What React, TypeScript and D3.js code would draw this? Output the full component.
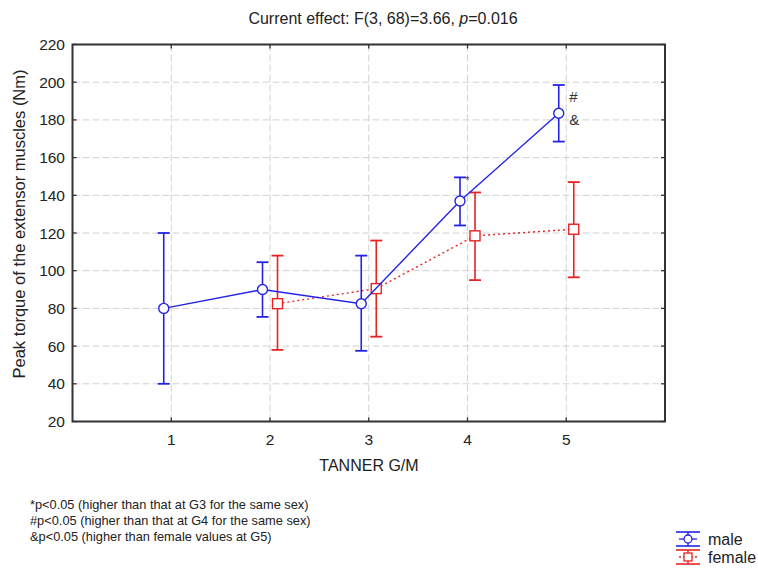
import React, { useEffect, useRef } from "react";
import * as d3 from "d3";

// values
const grades = [1, 2, 3, 4, 5];
const maleMean = [80, 90, 82.5, 137, 183.5];
const maleLow = [40, 75.5, 57.5, 124, 168.5];
const maleHigh = [120, 104.5, 108, 149.5, 198.5];

const femaleGrades = [2, 3, 4, 5];
const femaleMean = [82.5, 90.5, 118.5, 122];
const femaleLow = [58, 65, 95, 96.5];
const femaleHigh = [108, 116, 141.5, 147];

const yTicks = [20, 40, 60, 80, 100, 120, 140, 160, 180, 200, 220];
const footnotes = [
  "*p<0.05 (higher than that at G3 for the same sex)",
  "#p<0.05 (higher than that at G4 for the same sex)",
  "&p<0.05 (higher than female values at G5)",
];

const W = 758;
const H = 568;
const FONT = "Arial, 'Liberation Sans', sans-serif";
const BLUE = "#2323e6";
const RED = "#e62323";

export default function App() {
  const ref = useRef<SVGSVGElement>(null);

  useEffect(() => {
    const svg = d3.select(ref.current);
    svg.selectAll("*").remove();

    const x = d3.scaleLinear().domain([0, 6]).range([72.5, 665]);
    const y = d3.scaleLinear().domain([20, 220]).range([421.5, 44.5]);
    const off = 0.076;

    svg.append("rect").attr("width", W).attr("height", H).attr("fill", "#fff");

    // title
    const title = svg
      .append("text")
      .attr("x", 383)
      .attr("y", 24)
      .attr("text-anchor", "middle")
      .style("font-family", FONT)
      .style("font-size", "16px")
      .attr("fill", "#222");
    title.append("tspan").text("Current effect: F(3, 68)=3.66, ");
    title.append("tspan").style("font-style", "italic").text("p");
    title.append("tspan").text("=0.016");

    // grid
    const grid = svg.append("g").attr("stroke", "#d2d2d2").attr("stroke-dasharray", "7,3").attr("stroke-width", 1);
    grid
      .selectAll("line.h")
      .data(yTicks.slice(1, -1))
      .join("line")
      .attr("x1", x(0))
      .attr("x2", x(6))
      .attr("y1", (d) => y(d))
      .attr("y2", (d) => y(d));
    grid
      .selectAll("line.v")
      .data(grades)
      .join("line")
      .attr("x1", (d) => x(d))
      .attr("x2", (d) => x(d))
      .attr("y1", y(20))
      .attr("y2", y(220));

    // frame + inward ticks
    const frame = svg.append("g").attr("stroke", "#333").attr("fill", "none");
    frame
      .append("rect")
      .attr("x", x(0))
      .attr("y", y(220))
      .attr("width", x(6) - x(0))
      .attr("height", y(20) - y(220))
      .attr("stroke-width", 2);
    const tk = 4;
    yTicks.forEach((v) => {
      frame.append("line").attr("x1", x(0)).attr("x2", x(0) + tk).attr("y1", y(v)).attr("y2", y(v)).attr("stroke-width", 1.3);
      frame.append("line").attr("x1", x(6)).attr("x2", x(6) - tk).attr("y1", y(v)).attr("y2", y(v)).attr("stroke-width", 1.3);
    });
    grades.forEach((g) => {
      frame.append("line").attr("x1", x(g)).attr("x2", x(g)).attr("y1", y(20)).attr("y2", y(20) - tk).attr("stroke-width", 1.3);
      frame.append("line").attr("x1", x(g)).attr("x2", x(g)).attr("y1", y(220)).attr("y2", y(220) + tk).attr("stroke-width", 1.3);
    });

    // tick labels
    svg
      .append("g")
      .selectAll("text")
      .data(yTicks)
      .join("text")
      .attr("x", 65)
      .attr("y", (d) => y(d) + 5.5)
      .attr("text-anchor", "end")
      .style("font-family", FONT)
      .style("font-size", "15.5px")
      .attr("fill", "#222")
      .text((d) => d);
    svg
      .append("g")
      .selectAll("text")
      .data(grades)
      .join("text")
      .attr("x", (d) => x(d))
      .attr("y", 445)
      .attr("text-anchor", "middle")
      .style("font-family", FONT)
      .style("font-size", "15.5px")
      .attr("fill", "#222")
      .text((d) => d);

    // axis titles
    svg
      .append("text")
      .attr("x", 369)
      .attr("y", 471)
      .attr("text-anchor", "middle")
      .style("font-family", FONT)
      .style("font-size", "16px")
      .attr("fill", "#222")
      .text("TANNER G/M");
    svg
      .append("text")
      .attr("transform", `translate(25,224) rotate(-90)`)
      .attr("text-anchor", "middle")
      .style("font-family", FONT)
      .style("font-size", "16.5px")
      .attr("fill", "#222")
      .text("Peak torque of the extensor muscles (Nm)");

    const drawSeries = (
      gs: number[],
      mean: number[],
      low: number[],
      high: number[],
      dx: number,
      color: string,
      dashed: boolean,
      marker: "circle" | "square"
    ) => {
      const g = svg.append("g");
      const path = d3
        .line<number>()
        .x((_, i) => x(gs[i] + dx))
        .y((d) => y(d));
      g.append("path")
        .attr("d", path(mean))
        .attr("fill", "none")
        .attr("stroke", color)
        .attr("stroke-width", 1.4)
        .attr("stroke-dasharray", dashed ? "2,3" : null);
      const cap = 6;
      gs.forEach((gv, i) => {
        const cx = x(gv + dx);
        g.append("line").attr("x1", cx).attr("x2", cx).attr("y1", y(low[i])).attr("y2", y(high[i])).attr("stroke", color).attr("stroke-width", 1.6);
        [low[i], high[i]].forEach((v) => {
          g.append("line").attr("x1", cx - cap).attr("x2", cx + cap).attr("y1", y(v)).attr("y2", y(v)).attr("stroke", color).attr("stroke-width", 1.8);
        });
        if (marker === "circle") {
          g.append("circle").attr("cx", cx).attr("cy", y(mean[i])).attr("r", 5).attr("fill", "#fff").attr("stroke", color).attr("stroke-width", 1.4);
        } else {
          g.append("rect")
            .attr("x", cx - 5)
            .attr("y", y(mean[i]) - 5)
            .attr("width", 10)
            .attr("height", 10)
            .attr("fill", "#fff")
            .attr("stroke", color)
            .attr("stroke-width", 1.4);
        }
      });
    };

    drawSeries(femaleGrades, femaleMean, femaleLow, femaleHigh, off, RED, true, "square");
    drawSeries(grades, maleMean, maleLow, maleHigh, -off, BLUE, false, "circle");

    // significance marks
    const mark = (t: string, gx: number, v: number, size: number) =>
      svg
        .append("text")
        .attr("x", x(gx))
        .attr("y", y(v))
        .style("font-family", FONT)
        .style("font-size", `${size}px`)
        .attr("fill", "#333")
        .text(t);
    mark("*", 3.98, 146, 10);
    mark("#", 5.03, 189.5, 15);
    mark("&", 5.03, 177.5, 15);

    // footnotes
    svg
      .append("g")
      .selectAll("text")
      .data(footnotes)
      .join("text")
      .attr("x", 30)
      .attr("y", (_, i) => 509 + i * 16)
      .style("font-family", FONT)
      .style("font-size", "12.8px")
      .attr("fill", "#222")
      .text((d) => d);

    // legend
    const legend = [
      { name: "male", color: BLUE, dashed: false, marker: "circle", cy: 539 },
      { name: "female", color: RED, dashed: true, marker: "square", cy: 557 },
    ];
    legend.forEach((l) => {
      const g = svg.append("g");
      const x0 = 676;
      const x1 = 700;
      const cx = (x0 + x1) / 2;
      g.append("line").attr("x1", x0).attr("x2", x1).attr("y1", l.cy - 7).attr("y2", l.cy - 7).attr("stroke", l.color).attr("stroke-width", 1.6);
      g.append("line").attr("x1", x0).attr("x2", x1).attr("y1", l.cy + 7).attr("y2", l.cy + 7).attr("stroke", l.color).attr("stroke-width", 1.6);
      g.append("line").attr("x1", cx).attr("x2", cx).attr("y1", l.cy - 7).attr("y2", l.cy + 7).attr("stroke", l.color).attr("stroke-width", 1.4);
      g.append("line")
        .attr("x1", x0 + 3)
        .attr("x2", x1 - 3)
        .attr("y1", l.cy)
        .attr("y2", l.cy)
        .attr("stroke", l.color)
        .attr("stroke-width", 1.3)
        .attr("stroke-dasharray", l.dashed ? "2,2" : null);
      if (l.marker === "circle") {
        g.append("circle").attr("cx", cx).attr("cy", l.cy).attr("r", 4).attr("fill", "#fff").attr("stroke", l.color).attr("stroke-width", 1.3);
      } else {
        g.append("rect").attr("x", cx - 4).attr("y", l.cy - 4).attr("width", 8).attr("height", 8).attr("fill", "#fff").attr("stroke", l.color).attr("stroke-width", 1.3);
      }
      g.append("text")
        .attr("x", 708)
        .attr("y", l.cy + 5.5)
        .style("font-family", FONT)
        .style("font-size", "16px")
        .attr("fill", "#222")
        .text(l.name);
    });
  }, []);

  return (
    <svg
      ref={ref}
      width={W}
      height={H}
      style={{ position: "absolute", left: 0, top: 0, display: "block" }}
    />
  );
}
